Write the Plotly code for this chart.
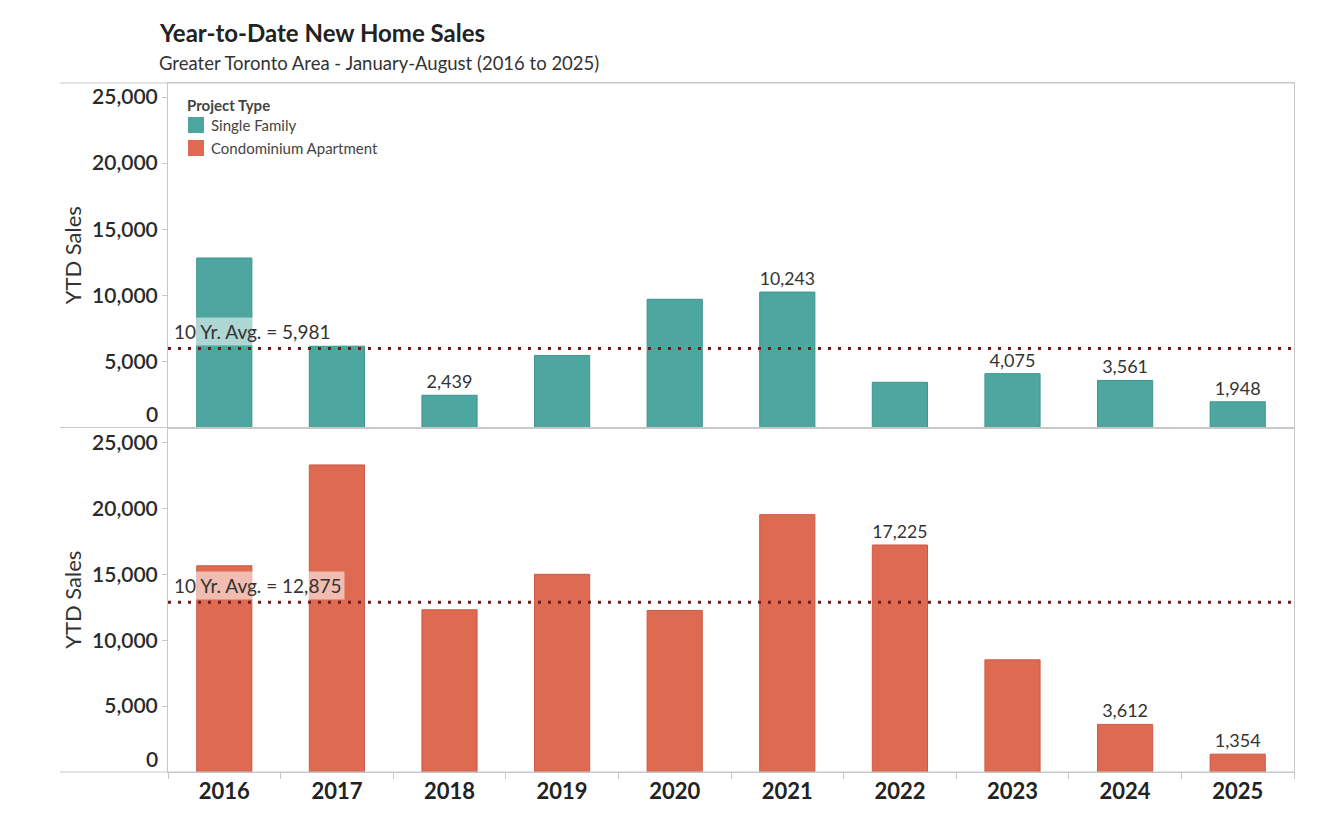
import plotly.graph_objects as go
from plotly.subplots import make_subplots

years = ["2016", "2017", "2018", "2019", "2020", "2021", "2022", "2023", "2024", "2025"]
single_family = [12824, 6150, 2439, 5450, 9700, 10243, 3420, 4075, 3561, 1948]
condo = [15650, 23300, 12310, 15000, 12260, 19529, 17225, 8511, 3612, 1354]
single_labelled = ["2018", "2021", "2023", "2024", "2025"]
condo_labelled = ["2022", "2024", "2025"]
y_ticks = [5000, 10000, 15000, 20000, 25000]
series_names = ["Single Family", "Condominium Apartment"]

SF_COLOR = "#4da6a0"
CO_COLOR = "#df6a52"
AVG_COLOR = "#6e1b1b"
FONT = "Lato, 'Open Sans', sans-serif"

# plot area: 1126 x 689 px
PW, PH = 1126, 689
def px_x(p):  # absolute page x -> paper
    return (p - 168) / PW
def px_y(p):  # absolute page y -> paper
    return (772 - p) / PH

fig = make_subplots(rows=2, cols=1, shared_xaxes=True, vertical_spacing=0)

def labels(vals, keep):
    return [f"{v:,}" if y in keep else "" for y, v in zip(years, vals)]

fig.add_trace(go.Bar(x=years, y=single_family, name=series_names[0],
                     marker=dict(color=SF_COLOR, line=dict(color="#3f958f", width=1)),
                     width=0.49, text=labels(single_family, single_labelled),
                     textposition="outside", cliponaxis=False,
                     textfont=dict(size=18, color="#333", family=FONT),
                     hoverinfo="x+y"), row=1, col=1)
fig.add_trace(go.Bar(x=years, y=condo, name=series_names[1],
                     marker=dict(color=CO_COLOR, line=dict(color="#cc5a44", width=1)),
                     width=0.49, text=labels(condo, condo_labelled),
                     textposition="outside", cliponaxis=False,
                     textfont=dict(size=18, color="#333", family=FONT),
                     hoverinfo="x+y"), row=2, col=1)

avg_sf = round(sum(single_family) / len(single_family))
avg_co = round(sum(condo) / len(condo))

for row, avg, yref in [(1, avg_sf, "y"), (2, avg_co, "y2")]:
    xref = "x" if row == 1 else "x2"
    fig.add_shape(type="line", xref=f"{xref} domain", yref=yref, x0=0, x1=1,
                  y0=avg, y1=avg, line=dict(color=AVG_COLOR, width=3, dash="3px,7px"))
    fig.add_annotation(xref="paper", yref=yref, x=px_x(171), y=avg, xanchor="left",
                       yanchor="bottom", yshift=2, text=f"10 Yr. Avg. = {avg:,}",
                       showarrow=False, bgcolor="rgba(255,255,255,0.55)", borderpad=2,
                       font=dict(size=19, color="#333", family=FONT))
    fig.add_annotation(xref="paper", yref=yref, x=0, y=0, xanchor="right",
                       yanchor="middle", xshift=-8, yshift=14, text="0",
                       showarrow=False, font=dict(size=21, color="#2a2a2a", family=FONT, weight=600))

yaxis_common = dict(tickvals=y_ticks, tickformat=",", ticks="outside", ticklen=5,
                    tickcolor="#c8c8c8", showgrid=False, zeroline=False,
                    showline=True, linecolor="#c8c8c8", linewidth=1, mirror=True,
                    tickfont=dict(size=21, color="#2a2a2a", family=FONT, weight=600),
                    title=dict(text="YTD Sales", standoff=4,
                               font=dict(size=22, color="#333", family=FONT)))
fig.update_yaxes(range=[0, 26060], row=1, col=1, **yaxis_common)
fig.update_yaxes(range=[0, 26140], row=2, col=1, **yaxis_common)

fig.update_xaxes(showgrid=False, showline=True, linecolor="#c8c8c8", linewidth=1,
                 mirror=True, tickson="boundaries", ticks="", ticklen=6,
                 tickcolor="#c8c8c8")
fig.update_xaxes(row=2, col=1, ticks="outside",
                 tickfont=dict(size=22, color="#222", family=FONT, weight="bold"))

# row divider lines extending under the axis headers
for ypix in [83, 427.5, 772]:
    fig.add_shape(type="line", xref="paper", yref="paper", x0=px_x(60), x1=1,
                  y0=px_y(ypix), y1=px_y(ypix), line=dict(color="#c8c8c8", width=1))

# legend (drawn inside the top pane)
fig.add_annotation(xref="paper", yref="paper", x=px_x(185), y=px_y(105), xanchor="left",
                   yanchor="middle", showarrow=False, text="<b>Project Type</b>",
                   font=dict(size=15, color="#444", family=FONT))
for i, (name, col) in enumerate(zip(series_names, [SF_COLOR, CO_COLOR])):
    yc = 125 + 23 * i
    fig.add_shape(type="rect", xref="paper", yref="paper",
                  x0=px_x(188), x1=px_x(204), y0=px_y(yc - 8), y1=px_y(yc + 8),
                  fillcolor=col, line=dict(width=0))
    fig.add_annotation(xref="paper", yref="paper", x=px_x(209), y=px_y(yc), xanchor="left",
                       yanchor="middle", showarrow=False, text=name,
                       font=dict(size=15, color="#444", family=FONT))

fig.add_annotation(xref="paper", yref="paper", x=px_x(157), y=px_y(33), xanchor="left",
                   yanchor="middle", showarrow=False, text="<b>Year-to-Date New Home Sales</b>",
                   font=dict(size=24, color="#222", family=FONT))
fig.add_annotation(xref="paper", yref="paper", x=px_x(157), y=px_y(63), xanchor="left",
                   yanchor="middle", showarrow=False,
                   text="Greater Toronto Area - January-August (2016 to 2025)",
                   font=dict(size=18.5, color="#333", family=FONT))

fig.update_layout(
    width=1330, height=838,
    margin=dict(l=160, r=44, t=75, b=74),
    plot_bgcolor="white", paper_bgcolor="white",
    font=dict(family=FONT, color="#333"),
    showlegend=False,
)

fig.write_html("out.html")
